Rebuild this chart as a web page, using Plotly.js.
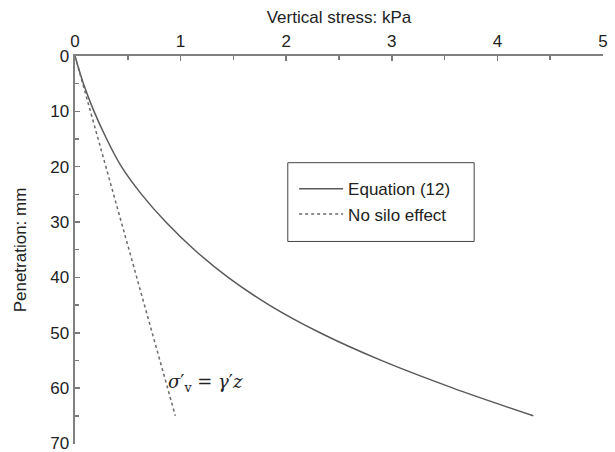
<!DOCTYPE html>
<html>
<head>
<meta charset="utf-8">
<script src="https://cdn.plot.ly/plotly-3.0.1.min.js"></script>
<style>html,body{margin:0;padding:0;background:#fff;}#chart{width:615px;height:452px;}</style>
</head>
<body>
<div id="chart"></div>
<script>
// Penetration (mm) and vertical stress (kPa)
const eqDepth  = [0, 5, 10, 15, 20, 25, 30, 35, 40, 45, 50, 55, 60, 65];
const eqStress = [0, 0.08, 0.18, 0.30, 0.44, 0.63, 0.86, 1.13, 1.45, 1.84, 2.32, 2.90, 3.58, 4.34];
const noSiloDepth  = [0, 65];
const noSiloStress = [0, 0.95];
const seriesNames = ["Equation (12)", "No silo effect"];
const xTitle = "Vertical stress: kPa";
const yTitle = "Penetration: mm";
const yTicks = [0, 10, 20, 30, 40, 50, 60, 70];
const noteText = "<i>σ</i>′<sub>v</sub> = <i>γ</i>′<i>z</i>";
const noteAt = [0.86, 59];

const traces = [
  {x: eqStress, y: eqDepth, name: seriesNames[0], mode: "lines", line: {color: "#5a5a5a", width: 1.5, shape: "spline"}},
  {x: noSiloStress, y: noSiloDepth, name: seriesNames[1], mode: "lines", line: {color: "#6a6a6a", width: 1.5, dash: "3px,3px"}}
];

const axisCommon = {
  showgrid: false, zeroline: false, showline: true, linecolor: "#808080", linewidth: 2.5,
  ticks: "inside", ticklen: 5, tickwidth: 1.5, tickcolor: "#7a7a7a",
  tickfont: {family: "Liberation Sans, Arial, sans-serif", size: 17, color: "#222"},
  minor: {ticks: "inside", ticklen: 4, tickwidth: 1.5, tickcolor: "#7a7a7a"}
};

const layout = {
  width: 615, height: 452,
  margin: {l: 75, r: 12, t: 56, b: 8},
  paper_bgcolor: "#fff", plot_bgcolor: "#fff",
  font: {family: "Liberation Sans, Arial, sans-serif", size: 17, color: "#222"},
  showlegend: true,
  legend: {x: 0.415, y: 0.703, xanchor: "left", yanchor: "top", borderwidth: 0, itemwidth: 44,
           font: {size: 17, color: "#222"}, bgcolor: "rgba(255,255,255,0)", tracegroupgap: 0},
  shapes: [{type: "rect", xref: "paper", yref: "paper", x0: 0.403, x1: 0.756, y0: 0.522, y1: 0.725,
            line: {color: "#444", width: 1}, fillcolor: "rgba(0,0,0,0)", layer: "below"}],
  xaxis: Object.assign({}, axisCommon, {
    side: "top", range: [0, 5], tickmode: "linear", tick0: 0, dtick: 1,
    minor: Object.assign({}, axisCommon.minor, {dtick: 0.5}),
    title: {text: xTitle, font: {size: 17, color: "#222"}, standoff: 4}
  }),
  yaxis: Object.assign({}, axisCommon, {
    range: [70.1, 0], tickmode: "array", tickvals: yTicks, ticktext: yTicks.map(String),
    ticklabeloverflow: "allow",
    minor: Object.assign({}, axisCommon.minor, {tickmode: "linear", tick0: 5, dtick: 10}),
    title: {text: yTitle, font: {size: 17, color: "#222"}, standoff: 19}
  }),
  annotations: [{
    x: noteAt[0], y: noteAt[1], xref: "x", yref: "y", text: noteText, showarrow: false,
    xanchor: "left", yanchor: "middle",
    font: {family: "DejaVu Serif, Liberation Serif, serif", size: 18, color: "#222"}
  }]
};

Plotly.newPlot("chart", traces, layout, {displayModeBar: false, staticPlot: true});
</script>
</body>
</html>
